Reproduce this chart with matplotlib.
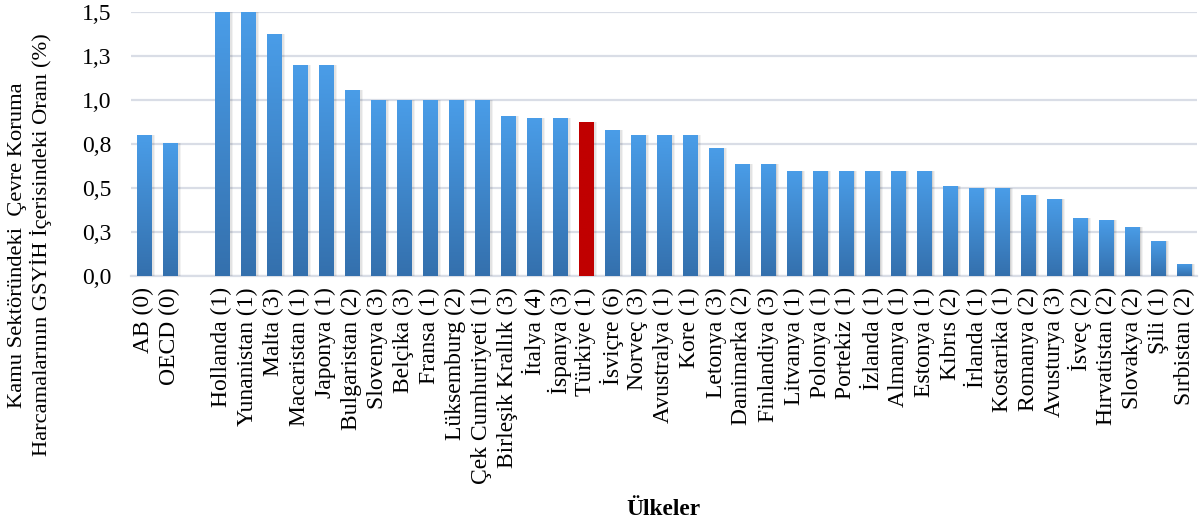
import numpy as np
import matplotlib.pyplot as plt
from matplotlib.colors import LinearSegmentedColormap
from matplotlib.ticker import FixedLocator, FuncFormatter

plt.rcParams['font.family'] = ['Liberation Serif', 'DejaVu Serif']

# ortalamalar (AB, OECD) ve ülkeler
groups = ['AB (0)', 'OECD (0)']
group_vals = [0.80, 0.76]

countries = ['Hollanda (1)', 'Yunanistan (1)', 'Malta (3)', 'Macaristan (1)', 'Japonya (1)',
             'Bulgaristan (2)', 'Slovenya (3)', 'Belçika (3)', 'Fransa (1)', 'Lüksemburg (2)',
             'Çek Cumhuriyeti (1)', 'Birleşik Krallık (3)', 'İtalya (4)', 'İspanya (3)',
             'Türkiye (1)', 'İsviçre (6)', 'Norveç (3)', 'Avustralya (1)', 'Kore (1)',
             'Letonya (3)', 'Danimarka (2)', 'Finlandiya (3)', 'Litvanya (1)', 'Polonya (1)',
             'Portekiz (1)', 'İzlanda (1)', 'Almanya (1)', 'Estonya (1)', 'Kıbrıs (2)',
             'İrlanda (1)', 'Kostarika (1)', 'Romanya (2)', 'Avusturya (3)', 'İsveç (2)',
             'Hırvatistan (2)', 'Slovakya (2)', 'Şili (1)', 'Sırbistan (2)']
country_vals = [1.50, 1.50, 1.38, 1.20, 1.20,
                1.06, 1.00, 1.00, 1.00, 1.00,
                1.00, 0.91, 0.90, 0.90,
                0.875, 0.83, 0.80, 0.80, 0.80,
                0.73, 0.64, 0.64, 0.60, 0.60,
                0.60, 0.60, 0.60, 0.60, 0.51,
                0.50, 0.50, 0.46, 0.44, 0.33,
                0.32, 0.28, 0.20, 0.07]
highlight = 'Türkiye (1)'
yticks = [0, 0.25, 0.5, 0.75, 1.0, 1.25, 1.5]

labels = groups + countries
values = group_vals + country_vals
# bir boş sütun ortalamalarla ülkeleri ayırıyor
pos = list(range(len(groups))) + [len(groups) + 1 + i for i in range(len(countries))]

fig = plt.figure(figsize=(12, 5.29), dpi=100)
ax = fig.add_axes([0.109, 0.478, 0.8885, 0.4985])

blue = LinearSegmentedColormap.from_list('b', ['#3470ad', '#4a9de8'])
red = LinearSegmentedColormap.from_list('r', ['#c00000', '#c00000'])
grad = np.linspace(0, 1, 256).reshape(-1, 1)

w = 0.54
# hafif gölge
for k, a in [(0.10, 0.05), (0.07, 0.06), (0.04, 0.07)]:
    ax.bar(np.array(pos) + k, values, width=w + k, color='black', alpha=a, zorder=2, linewidth=0)

bars = ax.bar(pos, values, width=w, color='none', linewidth=0, zorder=3)
for b, lab in zip(bars, labels):
    cm = red if lab == highlight else blue
    im = ax.imshow(grad, extent=[b.get_x(), b.get_x() + b.get_width(), 0, b.get_height()],
                   origin='lower', aspect='auto', cmap=cm, zorder=3)
    im.set_clip_path(b)


def fmt(v, p):
    # Excel gibi: 0,25 -> 0,3 ; 0,75 -> 0,8
    return f'{v + 1e-6:.1f}'.replace('.', ',')


ax.set_xlim(-0.5, pos[-1] + 0.5)
ax.set_ylim(0, 1.5)
ax.set_xticks(pos)
ax.set_xticklabels(labels, rotation=90, fontsize=17)
ax.yaxis.set_major_locator(FixedLocator(yticks))
ax.yaxis.set_major_formatter(FuncFormatter(fmt))
ax.tick_params(axis='y', labelsize=17, length=0, pad=14)
ax.tick_params(axis='x', length=0, pad=8)
ax.grid(axis='y', color='#d9dde6', linewidth=1.6, zorder=0)
ax.set_axisbelow(True)
for s in ['top', 'right', 'left']:
    ax.spines[s].set_visible(False)
ax.spines['bottom'].set_color('#d9dde6')
ax.spines['bottom'].set_linewidth(1.6)
ax.spines['bottom'].set_zorder(1)

fig.text(0.025, 0.537, 'Kamu Sektöründeki  Çevre Koruma\nHarcamalarının GSYİH İçerisindeki Oranı (%)',
         rotation=90, ha='center', va='center', fontsize=16.2, linespacing=1.15)
fig.text(0.553, 0.036, 'Ülkeler', ha='center', va='center', fontsize=16.8, fontweight='bold')

fig.savefig('out.png', dpi=100)
